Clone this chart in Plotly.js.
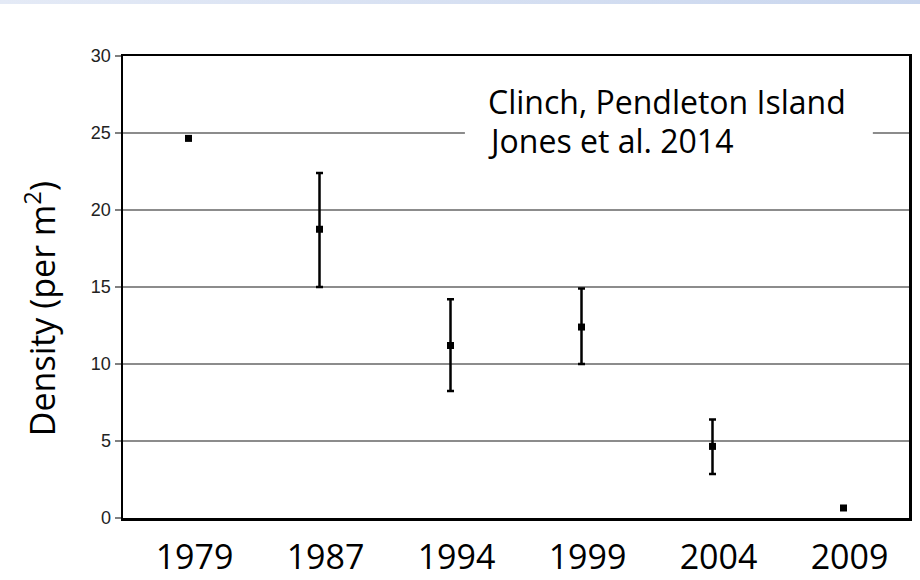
<!DOCTYPE html>
<html>
<head>
<meta charset="utf-8">
<script src="https://cdn.plot.ly/plotly-3.0.1.min.js"></script>
<style>
  html, body { margin: 0; padding: 0; background: #ffffff; }
  #wrap { position: relative; width: 920px; height: 580px; }
  #band { position: absolute; left: 0; top: 0; width: 920px; height: 4px;
          background: linear-gradient(to right, #e4eaf6, #c9d6ee); z-index: 5; }
  #chart { width: 920px; height: 580px; }
</style>
</head>
<body>
<div id="wrap">
  <div id="band"></div>
  <div id="chart"></div>
</div>
<script>
// ---- data ----
const years   = ['1979', '1987', '1994', '1999', '2004', '2009'];
const density = [24.65, 18.75, 11.2, 12.4, 4.65, 0.65];
const upper   = [24.65, 22.4, 14.2, 14.9, 6.4, 0.65];
const lower   = [24.65, 15.0, 8.25, 10.0, 2.85, 0.65];
const yTicks  = [0, 5, 10, 15, 20, 25, 30];
const yTitle  = 'Density (per m<sup>2</sup>)';
const noteLines = ['Clinch, Pendleton Island', 'Jones et al. 2014'];

const errPlus  = upper.map((u, i) => u - density[i]);
const errMinus = lower.map((l, i) => density[i] - l);

const trace = {
  type: 'scatter',
  mode: 'markers',
  x: years,
  y: density,
  marker: { symbol: 'square', size: 7, color: '#000000' },
  error_y: {
    type: 'data', symmetric: false,
    array: errPlus, arrayminus: errMinus,
    color: '#000000', thickness: 2.5, width: 3.5,
    visible: true
  },
  showlegend: false,
  hoverinfo: 'x+y'
};

const layout = {
  width: 920,
  height: 580,
  margin: { l: 123, r: 11, t: 56, b: 62 },
  paper_bgcolor: '#ffffff',
  plot_bgcolor: '#ffffff',
  showlegend: false,
  xaxis: {
    type: 'category',
    range: [-0.5, 5.5],
    showline: true, mirror: true, linecolor: '#000000', linewidth: 2.5,
    showgrid: false, zeroline: false,
    ticks: '',
    ticklabelshift: 6,
    ticklabelstandoff: 8,
    tickfont: { family: 'Open Sans, sans-serif', size: 34, color: '#000000' },
    automargin: false,
    fixedrange: true
  },
  yaxis: {
    range: [0, 30],
    tickvals: yTicks,
    ticktext: yTicks.map(String),
    showline: true, mirror: true, linecolor: '#000000', linewidth: 2.5,
    showgrid: true, gridcolor: '#8c8c8c', gridwidth: 1.3,
    zeroline: false,
    ticks: 'outside', ticklen: 6, tickwidth: 1.3, tickcolor: '#808080',
    ticklabelstandoff: 0,
    tickfont: { family: 'Liberation Sans, Arial, sans-serif', size: 18, color: '#222222' },
    automargin: false,
    fixedrange: true
  },
  shapes: [
    { type: 'line', xref: 'paper', yref: 'y', x0: 0, x1: 1, y0: 5, y1: 5,
      line: { color: '#3a3a3a', width: 1.6 }, layer: 'below' },
    { type: 'rect', xref: 'paper', yref: 'paper', x0: 0.435, x1: 0.954, y0: 0.764, y1: 0.952,
      fillcolor: '#ffffff', line: { width: 0 }, layer: 'above' }
  ],
  annotations: [
    { xref: 'paper', yref: 'paper', x: 0, xshift: -83, y: 0.452, xanchor: 'center', yanchor: 'middle',
      text: yTitle, textangle: -90, showarrow: false,
      font: { family: 'Open Sans, sans-serif', size: 34, color: '#000000' } },
    { xref: 'paper', yref: 'paper', x: 0.462, y: 0.902, xanchor: 'left', yanchor: 'middle',
      text: noteLines[0], showarrow: false,
      font: { family: 'Open Sans, sans-serif', size: 32, color: '#000000' } },
    { xref: 'paper', yref: 'paper', x: 0.462, y: 0.818, xanchor: 'left', yanchor: 'middle',
      text: noteLines[1], showarrow: false,
      font: { family: 'Open Sans, sans-serif', size: 32, color: '#000000' } }
  ]
};

Plotly.newPlot('chart', [trace], layout, { displayModeBar: false, staticPlot: true });
</script>
</body>
</html>
